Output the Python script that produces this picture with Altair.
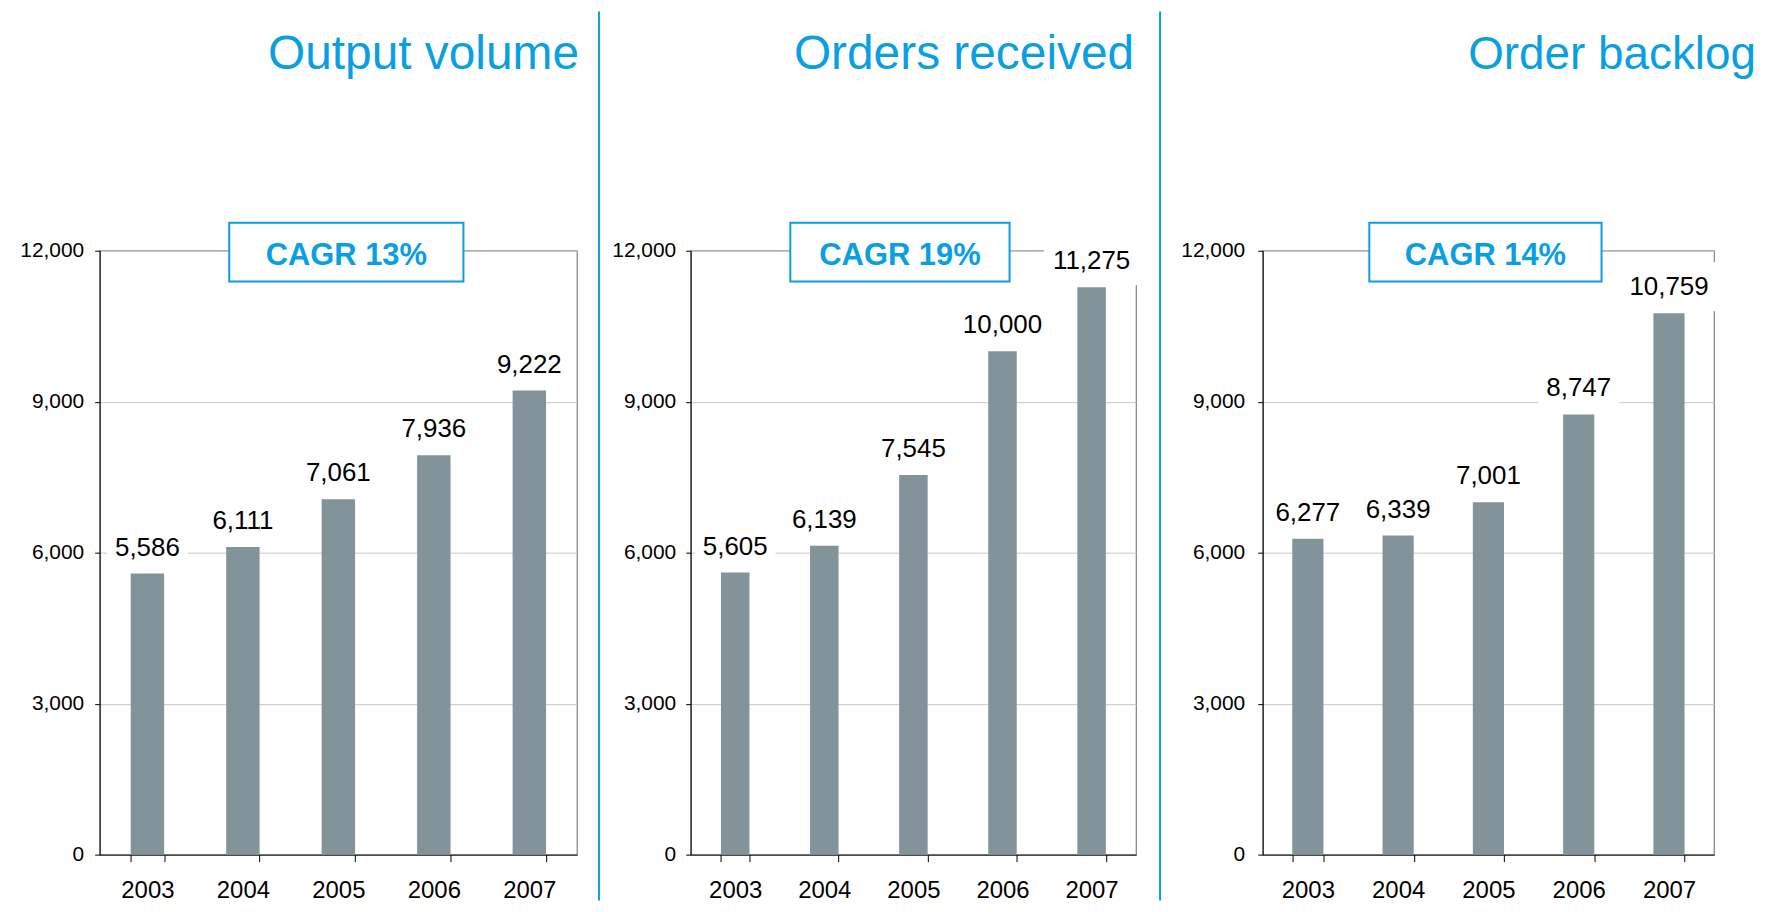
import altair as alt
import pandas as pd

years = ["2003", "2004", "2005", "2006", "2007"]
output_volume = [5586, 6111, 7061, 7936, 9222]
orders_received = [5605, 6139, 7545, 10000, 11275]
order_backlog = [6277, 6339, 7001, 8747, 10759]
titles = ["Output volume", "Orders received", "Order backlog"]
cagr_texts = ["CAGR 13%", "CAGR 19%", "CAGR 14%"]
y_ticks = [0, 3000, 6000, 9000, 12000]

BLUE = "#0A9FE2"
BAR = "#83939A"
FONT = "Liberation Sans"
H = 606


def panel(values, title, cagr, width, extent, ypad, pad_inner, box, title_dx,
          title_size, sep_dx=None):
    df = pd.DataFrame({"year": years, "value": values})
    df["label"] = [f"{v:,}" for v in values]
    base = alt.Chart(df)
    x = alt.X("year:N",
              scale=alt.Scale(paddingInner=pad_inner, paddingOuter=pad_inner / 2),
              axis=alt.Axis(title=None, labelAngle=0, tickBand="extent",
                            labelPadding=17, grid=False))
    y = alt.Y("value:Q",
              scale=alt.Scale(domain=[0, 12000], nice=False),
              axis=alt.Axis(title=None, values=y_ticks,
                            labelExpr="format(datum.value, ',')",
                            labelPadding=ypad, grid=True,
                            minExtent=extent, maxExtent=extent))
    bars = base.mark_bar(color=BAR).encode(x=x, y=y)
    bg = base.transform_calculate(
        w="(length(datum.label) - 1) * 14.5 + 23"
    ).mark_bar(color="white", yOffset=-51, y2Offset=-2).encode(
        x=x, y=y, y2=alt.Y2("value"),
        size=alt.Size("w:Q", scale=None, legend=None))
    labels = base.mark_text(fontSize=26, font=FONT, color="#000",
                            baseline="middle", dy=-26).encode(
        x=x, y=y, text="label:N")

    one = alt.Chart(pd.DataFrame({"t": [cagr], "title": [title]}))
    box_rect = one.mark_rect(fill="white", stroke=BLUE, strokeWidth=2).encode(
        x=alt.value(box[0]), x2=alt.value(box[1]),
        y=alt.value(-28), y2=alt.value(31))
    box_text = one.mark_text(fontSize=31, font=FONT, fontWeight="bold",
                             color=BLUE, baseline="middle").encode(
        x=alt.value((box[0] + box[1]) / 2), y=alt.value(5), text="t:N")
    ttl = one.mark_text(fontSize=title_size, font=FONT, color=BLUE,
                        align="right", baseline="alphabetic").encode(
        x=alt.value(width + title_dx), y=alt.value(-182), text="title:N")
    layers = [bars, bg, labels, box_rect, box_text, ttl]
    if sep_dx is not None:
        sep = one.mark_rule(color=BLUE, strokeWidth=2).encode(
            x=alt.value(width + sep_dx), y=alt.value(-240), y2=alt.value(H + 46))
        layers.append(sep)
    return alt.layer(*layers).properties(width=width, height=H)


p1 = panel(output_volume, titles[0], cagr_texts[0], 479, 91, 11, 0.65,
           (130, 365), 2, 48, sep_dx=22)
p2 = panel(orders_received, titles[1], cagr_texts[1], 447, 84, 10, 0.68,
           (100, 320), -2, 48, sep_dx=24)
p3 = panel(order_backlog, titles[2], cagr_texts[2], 453, 95, 13, 0.655,
           (107, 340), 42, 46)

chart = (
    alt.hconcat(p1, p2, p3, spacing=5)
    .properties(padding=0)
    .configure_view(stroke="#8a8a8a", strokeWidth=1.3)
    .configure_axisX(labelFontSize=24, labelFont=FONT, labelColor="#000",
                     tickSize=7, tickColor="#000", domainColor="#000")
    .configure_axisY(labelFontSize=21, labelFont=FONT, labelColor="#000",
                     tickSize=5, tickColor="#000", domainColor="#000",
                     gridColor="#c8c8c8")
)

chart.save("out.html", embed_options={"renderer": "svg", "actions": False})
